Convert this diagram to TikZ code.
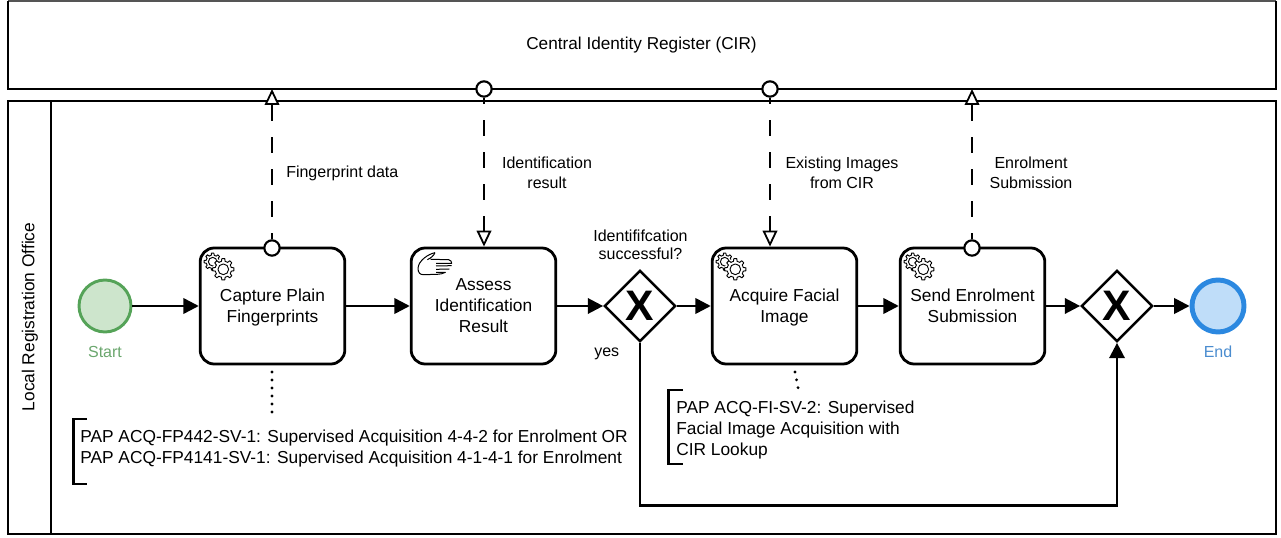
\documentclass[tikz,border=0pt]{standalone}
\usepackage{fontspec}
\setmainfont{Liberation Sans}
\usetikzlibrary{arrows.meta,shapes.geometric}
\definecolor{startfill}{HTML}{CDE5CC}
\definecolor{startline}{HTML}{55A358}
\definecolor{starttext}{HTML}{6AA66D}
\definecolor{endfill}{HTML}{BFDDF9}
\definecolor{endline}{HTML}{2B88E0}
\definecolor{endtext}{HTML}{4A8CCF}
\definecolor{poolgray}{HTML}{555555}
\newcommand{\gearpart}[3]{% centre x, centre y, tip radius
 \begin{scope}[shift={(#1,#2)}]
  \fill[white] (0,0) circle (#3);
  \foreach \a in {0,45,...,315}{
   \draw[gearline] (\a-22.5:#3*.76) -- (\a-13:#3*.76) -- (\a-8:#3) -- (\a+8:#3) -- (\a+13:#3*.76) -- (\a+22.5:#3*.76);}
  \draw[gearline] (0,0) circle (#3*.5);
 \end{scope}}
\newcommand{\gearicon}[1]{%
 \begin{scope}[shift={(#1)}]
  \gearpart{12.7}{13.7}{8.6}
  \gearpart{23.3}{21.3}{10.7}
 \end{scope}}
\tikzset{
 x=.75pt,y=-.75pt,
 gearline/.style={line width=.7pt,line join=round},
 pool/.style={draw=black,line width=2.2pt},
 task/.style={draw,line width=2.1pt,rounded corners=10.5pt,fill=white,minimum width=108.5pt,minimum height=87pt,align=center,font=\fontsize{13}{15.75}\selectfont,inner sep=0pt,text depth=0pt},
 flow/.style={line width=1.9pt,-{Triangle[length=11.5pt,width=11.5pt]}},
 msg/.style={line width=1.35pt,dash pattern=on 12pt off 12pt,dash phase=7pt,-{Triangle[open,fill=white,length=12pt,width=11pt,line width=1.35pt]}},
 src/.style={circle,draw,line width=1.6pt,fill=white,minimum size=11.5pt,inner sep=0pt},
 gate/.style={diamond,draw,line width=1.8pt,fill=white,minimum width=53.5pt,minimum height=53.5pt,inner sep=0pt,font=\fontsize{32}{32}\selectfont\bfseries},
 lbl/.style={font=\fontsize{12}{15}\selectfont,align=left,anchor=west,inner sep=0pt},
 clbl/.style={font=\fontsize{12}{15}\selectfont,align=center,inner sep=0pt},
 anno/.style={line width=2.2pt},
 papt/.style={font=\fontsize{13}{15.5}\selectfont,align=left,anchor=west,inner sep=0pt},
 assoc/.style={line width=2.4pt,line cap=round,dash pattern=on 0pt off 6pt}
}
\begin{document}
\begin{tikzpicture}
\useasboundingbox (0,0) rectangle (1281,538);
\draw[line width=1pt,draw=poolgray] (8,1) -- (1276,1);
\draw[line width=1.5pt] (8,1) -- (8,89) (1276,1) -- (1276,89);
\draw[pool] (7,89) -- (1277,89);
\draw[line width=1.8pt] (8,101) rectangle (1276,534);
\draw[line width=1.8pt] (51,101) -- (51,534);
\node[clbl,font=\fontsize{12.9}{15}\selectfont] (cir) at (641.5,45.5) {Central Identity Register (CIR)};
\node[clbl,rotate=90,font=\fontsize{13}{15}\selectfont] (lro) at (30,317) {Local Registration Office};

\coordinate (c1) at (272,89);
\coordinate (c2) at (484,89);
\coordinate (c3) at (770,89);
\coordinate (c4) at (972,89);

\node[circle,draw=startline,fill=startfill,line width=2.2pt,minimum size=39pt,inner sep=0pt] (start) at (105,306) {};
\node[font=\fontsize{12}{14}\selectfont,text=starttext,inner sep=0pt] (startl) at (105,352) {Start};
\node[task] (t1) at (272.5,306) {Capture Plain\\Fingerprints};
\node[task] (t2) at (483.5,306) {Assess\\Identification\\Result};
\node[gate] (g1) at (640,306) {X};
\node[task] (t3) at (784.5,306) {Acquire Facial\\Image};
\node[task] (t4) at (972.5,306) {Send Enrolment\\Submission};
\node[gate] (g2) at (1117,306) {X};
\node[circle,draw=endline,fill=endfill,line width=3.7pt,minimum size=39pt,inner sep=0pt] (end) at (1218,306) {};
\node[font=\fontsize{12}{14}\selectfont,text=endtext,inner sep=0pt] (endl) at (1218,352) {End};

\gearicon{200,248}
\gearicon{712,248}
\gearicon{900,248}
% hand, drawn in 3x units of the icon's crop
\begin{scope}[shift={(400,230)},x=.25pt,y=-.25pt,line width=.75pt,line join=round]
 \draw (105,68) .. controls (85,72) and (55,92) .. (54,115) .. controls (54,128) and (60,134) .. (70,134) -- (112,133) .. controls (122,133) and (130,130) .. (136,127) -- (108,127);
 \draw (105,68) .. controls (102,76) and (92,85) .. (82,89) (92,88) -- (146,89) .. controls (152,90) and (156,96) .. (155,100) -- (108,100);
 \draw (108,108) -- (155,107) (108,118) -- (148,117);
\end{scope}

\draw[flow] (start) -- (t1);
\draw[flow] (t1) -- (t2);
\draw[flow] (t2) -- (g1);
\draw[flow] (g1) -- (t3);
\draw[flow] (t3) -- (t4);
\draw[flow] (t4) -- (g2);
\draw[flow] (g2) -- (end);
\draw[flow] (g1.south) -- (640,505.5) -- (1117,505.5) -- (g2.south);

\node[src] (s1) at (272,248) {};
\node[src] (s2) at (484,89) {};
\node[src] (s3) at (770,89) {};
\node[src] (s4) at (972,248) {};
\draw[msg] (s1) -- (c1);
\draw[msg] (s2) -- (t2.north -| s2);
\draw[msg] (s3) -- (t3.north -| s3);
\draw[msg] (s4) -- (c4);

\node[lbl] (l1) at (286,173) {Fingerprint data};
\node[clbl] (l2) at (547,172.5) {Identification\\result};
\node[clbl] (l3) at (842,172.5) {Existing Images\\from CIR};
\node[clbl] (l4) at (1031,172.5) {Enrolment\\Submission};
\node[clbl,font=\fontsize{12}{13.5}\selectfont] (q) at (640.5,244.5) {Identififcation\\successful?};
\node[lbl] (y) at (594,354) {yes};

\coordinate (a1) at (272,372);
\coordinate (a1b) at (272,414);
\coordinate (a3) at (795,372);
\coordinate (a3b) at (798.5,390);
\draw[assoc] (a1) -- (a1b);
\draw[assoc] (a3) -- (a3b);
\draw[anno] (87,419) -- (73.5,419) -- (73.5,484) -- (87,484);
\draw[anno] (683,390) -- (668.5,390) -- (668.5,464) -- (683,464);
\node[papt] (p1) at (80,448.5) {PAP ACQ-FP442-SV-1: Supervised Acquisition 4-4-2 for Enrolment OR\\PAP ACQ-FP4141-SV-1: Supervised Acquisition 4-1-4-1 for Enrolment};
\node[papt] (p2) at (676,430) {PAP ACQ-FI-SV-2: Supervised\\Facial Image Acquisition with\\CIR Lookup};
\end{tikzpicture}
\end{document}
